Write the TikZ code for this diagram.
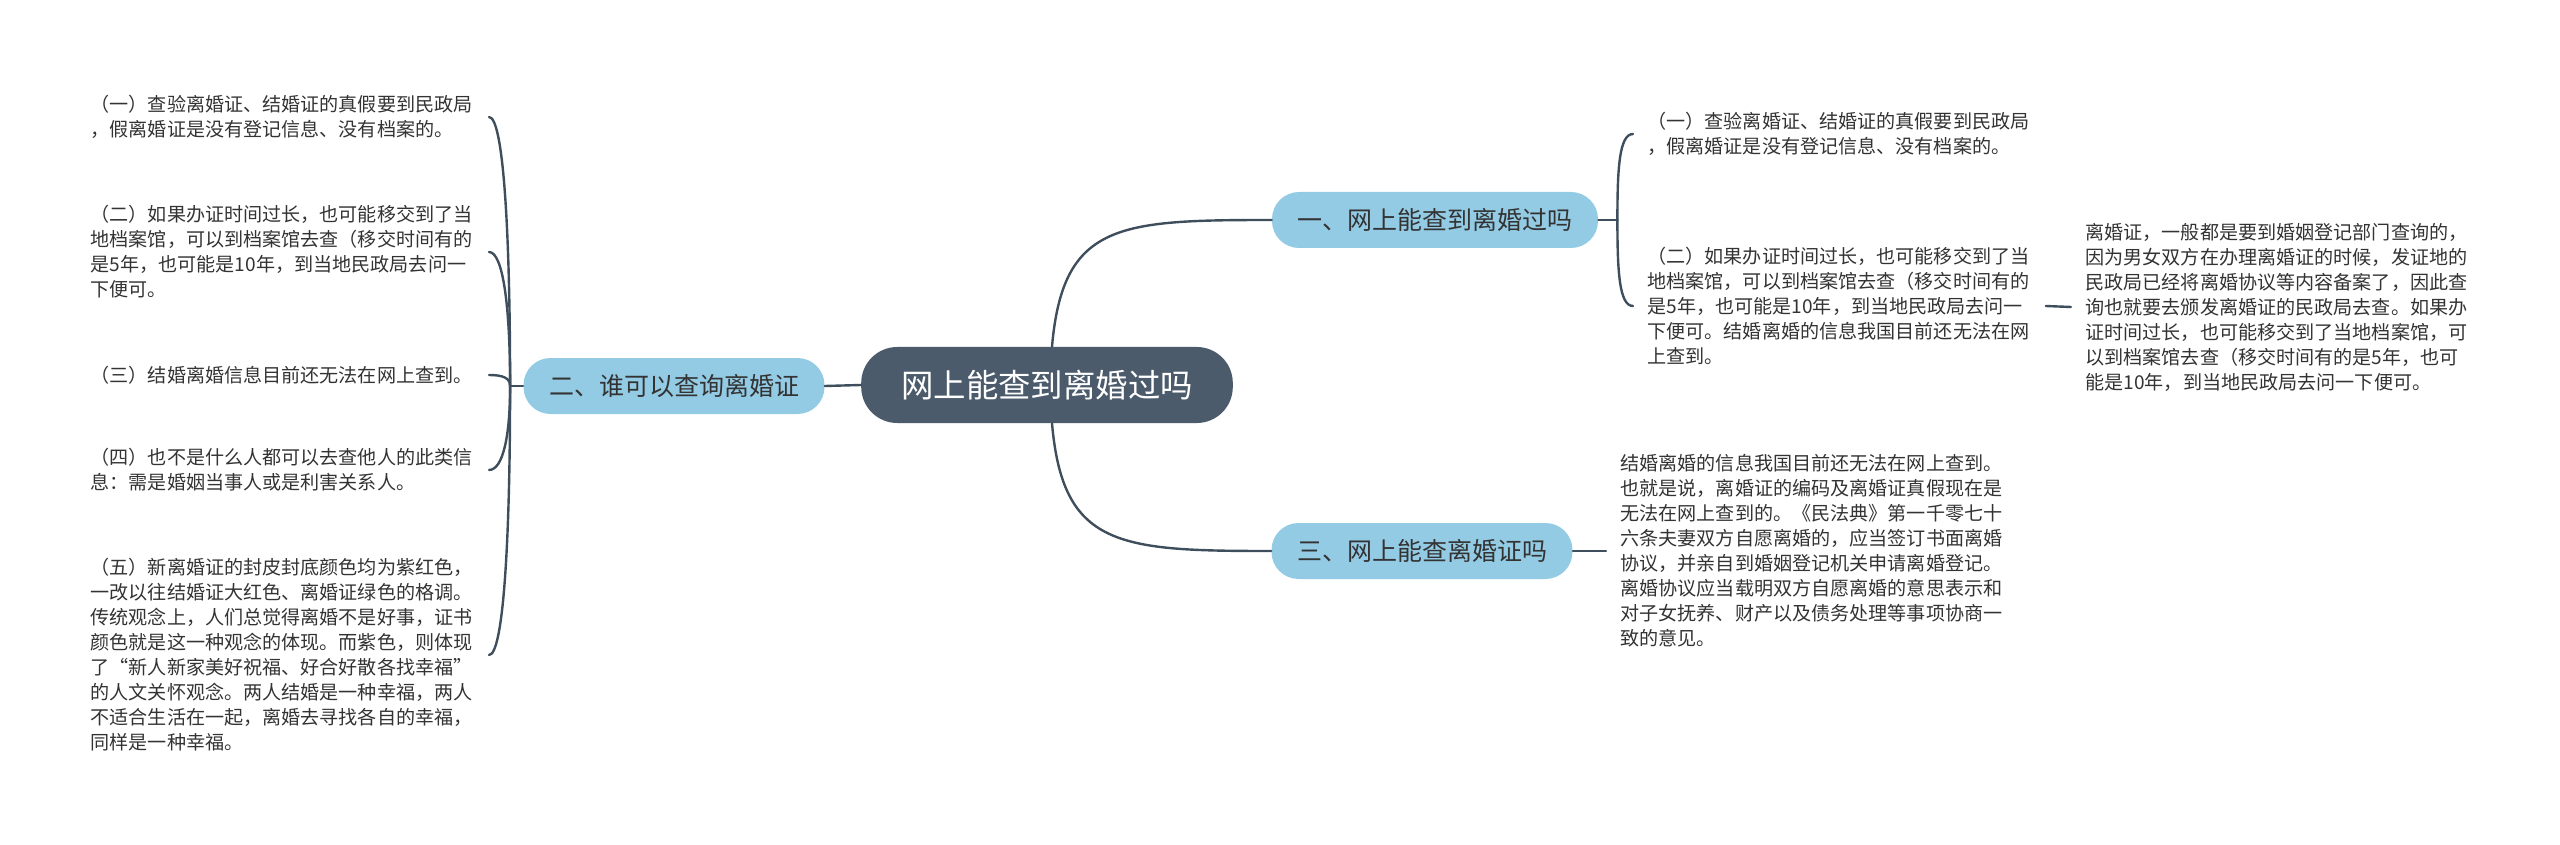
\documentclass[tikz,border=0pt]{standalone}
\usepackage{fontspec}
\setmainfont{Noto Sans CJK SC}
\usetikzlibrary{positioning}
\definecolor{rootfill}{HTML}{4B5B6B}
\definecolor{subfill}{HTML}{94CBE4}
\definecolor{linkcol}{HTML}{3F4E5C}
\definecolor{txtcol}{HTML}{333333}
\begin{document}
\begin{tikzpicture}[x=0.5pt, y=0.5pt, line join=round, line cap=round,
	link/.style={draw=linkcol, line width=1.2pt},
	rootnode/.style={fill=rootfill, text=white, rounded corners=18pt, minimum height=38pt, inner xsep=20pt, font=\fontsize{16.2pt}{19pt}\selectfont},
	subnode/.style={fill=subfill, text=txtcol, rounded corners=13.5pt, minimum height=28pt, inner xsep=12.75pt, font=\fontsize{12.5pt}{15pt}\selectfont},
	leaf/.style={text=txtcol, text width=192pt, align=left, inner xsep=7pt, inner ysep=2pt, font=\fontsize{9.55pt}{12.5pt}\selectfont}]
				\useasboundingbox (0,0) rectangle (2560,-845);
				\node[rootnode] (root) at (1047,-385) {网上能查到离婚过吗};
				\node[subnode] (b1) at (1435,-220) {一、网上能查到离婚过吗};
				\node[subnode] (b2) at (674,-386) {二、谁可以查询离婚证};
				\node[subnode] (b3) at (1422,-551) {三、网上能查离婚证吗};
				\node[leaf, anchor=east] (l1) at (489,-117) {（一）查验离婚证、结婚证的真假要到民政局\\，假离婚证是没有登记信息、没有档案的。};
				\node[leaf, anchor=east] (l2) at (489,-252) {（二）如果办证时间过长，也可能移交到了当\\地档案馆，可以到档案馆去查（移交时间有的\\是5年，也可能是10年，到当地民政局去问一\\下便可。};
				\node[leaf, anchor=east] (l3) at (489,-375) {（三）结婚离婚信息目前还无法在网上查到。};
				\node[leaf, anchor=east] (l4) at (489,-470) {（四）也不是什么人都可以去查他人的此类信\\息：需是婚姻当事人或是利害关系人。};
				\node[leaf, anchor=east] (l5) at (489,-655) {（五）新离婚证的封皮封底颜色均为紫红色，\\一改以往结婚证大红色、离婚证绿色的格调。\\传统观念上，人们总觉得离婚不是好事，证书\\颜色就是这一种观念的体现。而紫色，则体现\\了“新人新家美好祝福、好合好散各找幸福”\\的人文关怀观念。两人结婚是一种幸福，两人\\不适合生活在一起，离婚去寻找各自的幸福，\\同样是一种幸福。};
				\node[leaf, anchor=west] (r1) at (1633,-134) {（一）查验离婚证、结婚证的真假要到民政局\\，假离婚证是没有登记信息、没有档案的。};
				\node[leaf, anchor=west] (r2) at (1633,-306) {（二）如果办证时间过长，也可能移交到了当\\地档案馆，可以到档案馆去查（移交时间有的\\是5年，也可能是10年，到当地民政局去问一\\下便可。结婚离婚的信息我国目前还无法在网\\上查到。};
				\node[leaf, anchor=west] (r3) at (2071,-307) {离婚证，一般都是要到婚姻登记部门查询的，\\因为男女双方在办理离婚证的时候，发证地的\\民政局已经将离婚协议等内容备案了，因此查\\询也就要去颁发离婚证的民政局去查。如果办\\证时间过长，也可能移交到了当地档案馆，可\\以到档案馆去查（移交时间有的是5年，也可\\能是10年，到当地民政局去问一下便可。};
				\node[leaf, anchor=west] (r4) at (1606,-551) {结婚离婚的信息我国目前还无法在网上查到。\\也就是说，离婚证的编码及离婚证真假现在是\\无法在网上查到的。《民法典》第一千零七十\\六条夫妻双方自愿离婚的，应当签订书面离婚\\协议，并亲自到婚姻登记机关申请离婚登记。\\离婚协议应当载明双方自愿离婚的意思表示和\\对子女抚养、财产以及债务处理等事项协商一\\致的意见。};
				\draw[link] (root.west) -- (b2.east);
				\draw[link] ([xshift=2.5pt]root.north) to[out=85, in=180, out looseness=1.25, in looseness=1.55] (b1.west);
				\draw[link] ([xshift=2.5pt]root.south) to[out=-85, in=180, out looseness=1.25, in looseness=1.55] (b3.west);
				\coordinate[left=6.5pt of b2.west] (b2j);
				\draw[link] (b2.west) -- (b2j);
				\foreach \lf/\ang/\od in {l1/90/80pt, l2/90/40pt, l3/90/4pt, l4/-90/25pt, l5/-90/80pt}
					\draw[link] (b2j) to[out=\ang, in=0, out distance=\od, in distance=7pt] (\lf.east);
				\coordinate[right=9.5pt of b1.east] (b1j);
				\draw[link] (b1.east) -- (b1j);
				\foreach \lf/\ang in {r1/90, r2/-90}
					\draw[link] (b1j) to[out=\ang, in=180, out distance=25pt, in distance=7pt] (\lf.west);
				\draw[link] (r2.east) -- (r3.west);
				\draw[link] (b3.east) -- (r4.west);
			\end{tikzpicture}
\end{document}
